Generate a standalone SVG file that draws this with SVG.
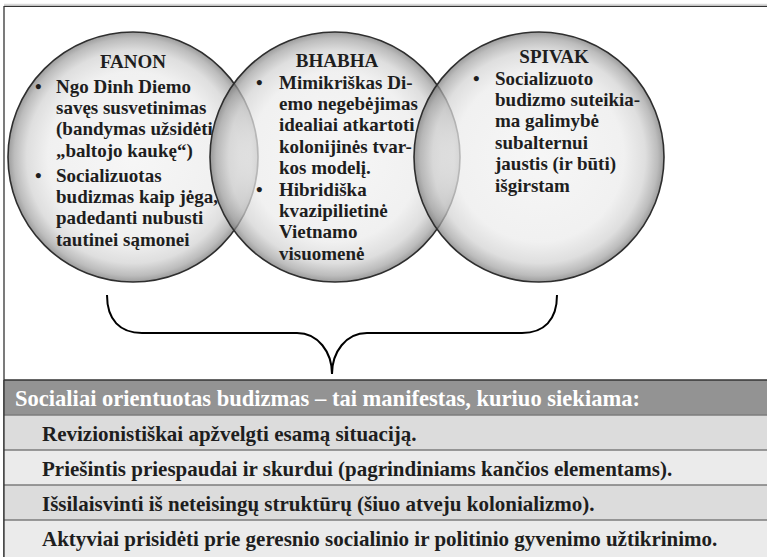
<svg xmlns="http://www.w3.org/2000/svg" width="767" height="557" viewBox="0 0 767 557">
<defs>
<radialGradient id="ball" cx="0.5" cy="0.5" r="0.5">
<stop offset="0" stop-color="#f3f3f3"/>
<stop offset="0.68" stop-color="#ebebeb"/>
<stop offset="0.85" stop-color="#d2d2d2"/>
<stop offset="0.95" stop-color="#a2a2a2"/>
<stop offset="1" stop-color="#767676"/>
</radialGradient>
<style>
.ball{fill:url(#ball);fill-opacity:0.72;stroke:#2e2e2e;stroke-width:1.6}
.t{font-family:"Liberation Serif","Times New Roman",serif;font-weight:bold;font-size:19px;fill:#1e1e1e}
.ttl{text-anchor:middle}
.row{font-family:"Liberation Serif","Times New Roman",serif;font-weight:bold;font-size:21px;fill:#1e1e1e}
.hdr{font-family:"Liberation Serif","Times New Roman",serif;font-weight:bold;font-size:23px;fill:#ffffff}
.sep{stroke:#7c7c7c;stroke-width:1.5}
</style>
</defs>
<rect width="767" height="557" fill="#ffffff"/>
<line x1="4" y1="4.5" x2="767" y2="4.5" stroke="#d9d9d9" stroke-width="1.5"/>
<line x1="4" y1="6.3" x2="767" y2="6.3" stroke="#333" stroke-width="1.3"/>
<line x1="4" y1="6" x2="4" y2="557" stroke="#333" stroke-width="1.3"/>

<g id="fanon">
<circle class="ball" cx="133" cy="157" r="125"/>
<text class="t ttl" x="133" y="68">FANON</text>
<text class="t" x="35" y="92.5">•</text>
<text class="t" x="56" y="92.5">Ngo Dinh Diemo</text>
<text class="t" x="56" y="113.9">savęs susvetinimas</text>
<text class="t" x="56" y="135.3">(bandymas užsidėti</text>
<text class="t" x="56" y="156.7">„baltojo kaukę“)</text>
<text class="t" x="35" y="181.5">•</text>
<text class="t" x="56" y="181.5">Socializuotas</text>
<text class="t" x="56" y="202.9">budizmas kaip jėga,</text>
<text class="t" x="56" y="224.3">padedanti nubusti</text>
<text class="t" x="56" y="245.7">tautinei sąmonei</text>
</g>

<g id="bhabha">
<circle class="ball" cx="335" cy="157" r="125"/>
<text class="t ttl" x="337" y="66.5">BHABHA</text>
<text class="t" x="256" y="88.5">•</text>
<text class="t" x="279" y="88.5">Mimikriškas Di-</text>
<text class="t" x="279" y="109.9">emo negebėjimas</text>
<text class="t" x="279" y="131.3">idealiai atkartoti</text>
<text class="t" x="279" y="152.7">kolonijinės tvar-</text>
<text class="t" x="279" y="174.1">kos modelį.</text>
<text class="t" x="256" y="195.5">•</text>
<text class="t" x="279" y="195.5">Hibridiška</text>
<text class="t" x="279" y="216.9">kvazipilietinė</text>
<text class="t" x="279" y="238.3">Vietnamo</text>
<text class="t" x="279" y="259.7">visuomenė</text>
</g>

<g id="spivak">
<circle class="ball" cx="539" cy="157" r="125"/>
<text class="t ttl" x="554" y="63">SPIVAK</text>
<text class="t" x="473" y="84.5">•</text>
<text class="t" x="495" y="84.5">Socializuoto</text>
<text class="t" x="495" y="105.9">budizmo suteikia-</text>
<text class="t" x="495" y="127.3">ma galimybė</text>
<text class="t" x="495" y="148.7">subalternui</text>
<text class="t" x="495" y="170.1">jaustis (ir būti)</text>
<text class="t" x="495" y="191.5">išgirstam</text>
</g>

<g id="connectors">
<path d="M107,295 C107,320 120,333 142,333 L297,333 C318,333 332,352 332,374 C332,352 346,333 367,333 L522,333 C544,333 557,320 557,295" fill="none" stroke="#000" stroke-width="2"/>
</g>

<g id="table">
<rect x="4" y="380" width="763" height="35" fill="#939393"/>
<rect x="4" y="415" width="763" height="35" fill="#dcdcdc"/>
<rect x="4" y="450" width="763" height="35" fill="#ebebeb"/>
<rect x="4" y="485" width="763" height="35" fill="#dcdcdc"/>
<rect x="4" y="520" width="763" height="37" fill="#ebebeb"/>
<line x1="4" y1="380" x2="767" y2="380" stroke="#333" stroke-width="1.5"/>
<line class="sep" x1="4" y1="415" x2="767" y2="415"/>
<line class="sep" x1="4" y1="450" x2="767" y2="450"/>
<line class="sep" x1="4" y1="485" x2="767" y2="485"/>
<line class="sep" x1="4" y1="520" x2="767" y2="520"/>
<line x1="4" y1="380" x2="4" y2="557" stroke="#333" stroke-width="1.3"/>
<text class="hdr" x="15" y="406" textLength="625" lengthAdjust="spacingAndGlyphs">Socialiai orientuotas budizmas – tai manifestas, kuriuo siekiama:</text>
<text class="row" x="42" y="441">Revizionistiškai apžvelgti esamą situaciją.</text>
<text class="row" x="42" y="476">Priešintis priespaudai ir skurdui (pagrindiniams kančios elementams).</text>
<text class="row" x="42" y="511">Išsilaisvinti iš neteisingų struktūrų (šiuo atveju kolonializmo).</text>
<text class="row" x="42" y="546">Aktyviai prisidėti prie geresnio socialinio ir politinio gyvenimo užtikrinimo.</text>
</g>
</svg>
